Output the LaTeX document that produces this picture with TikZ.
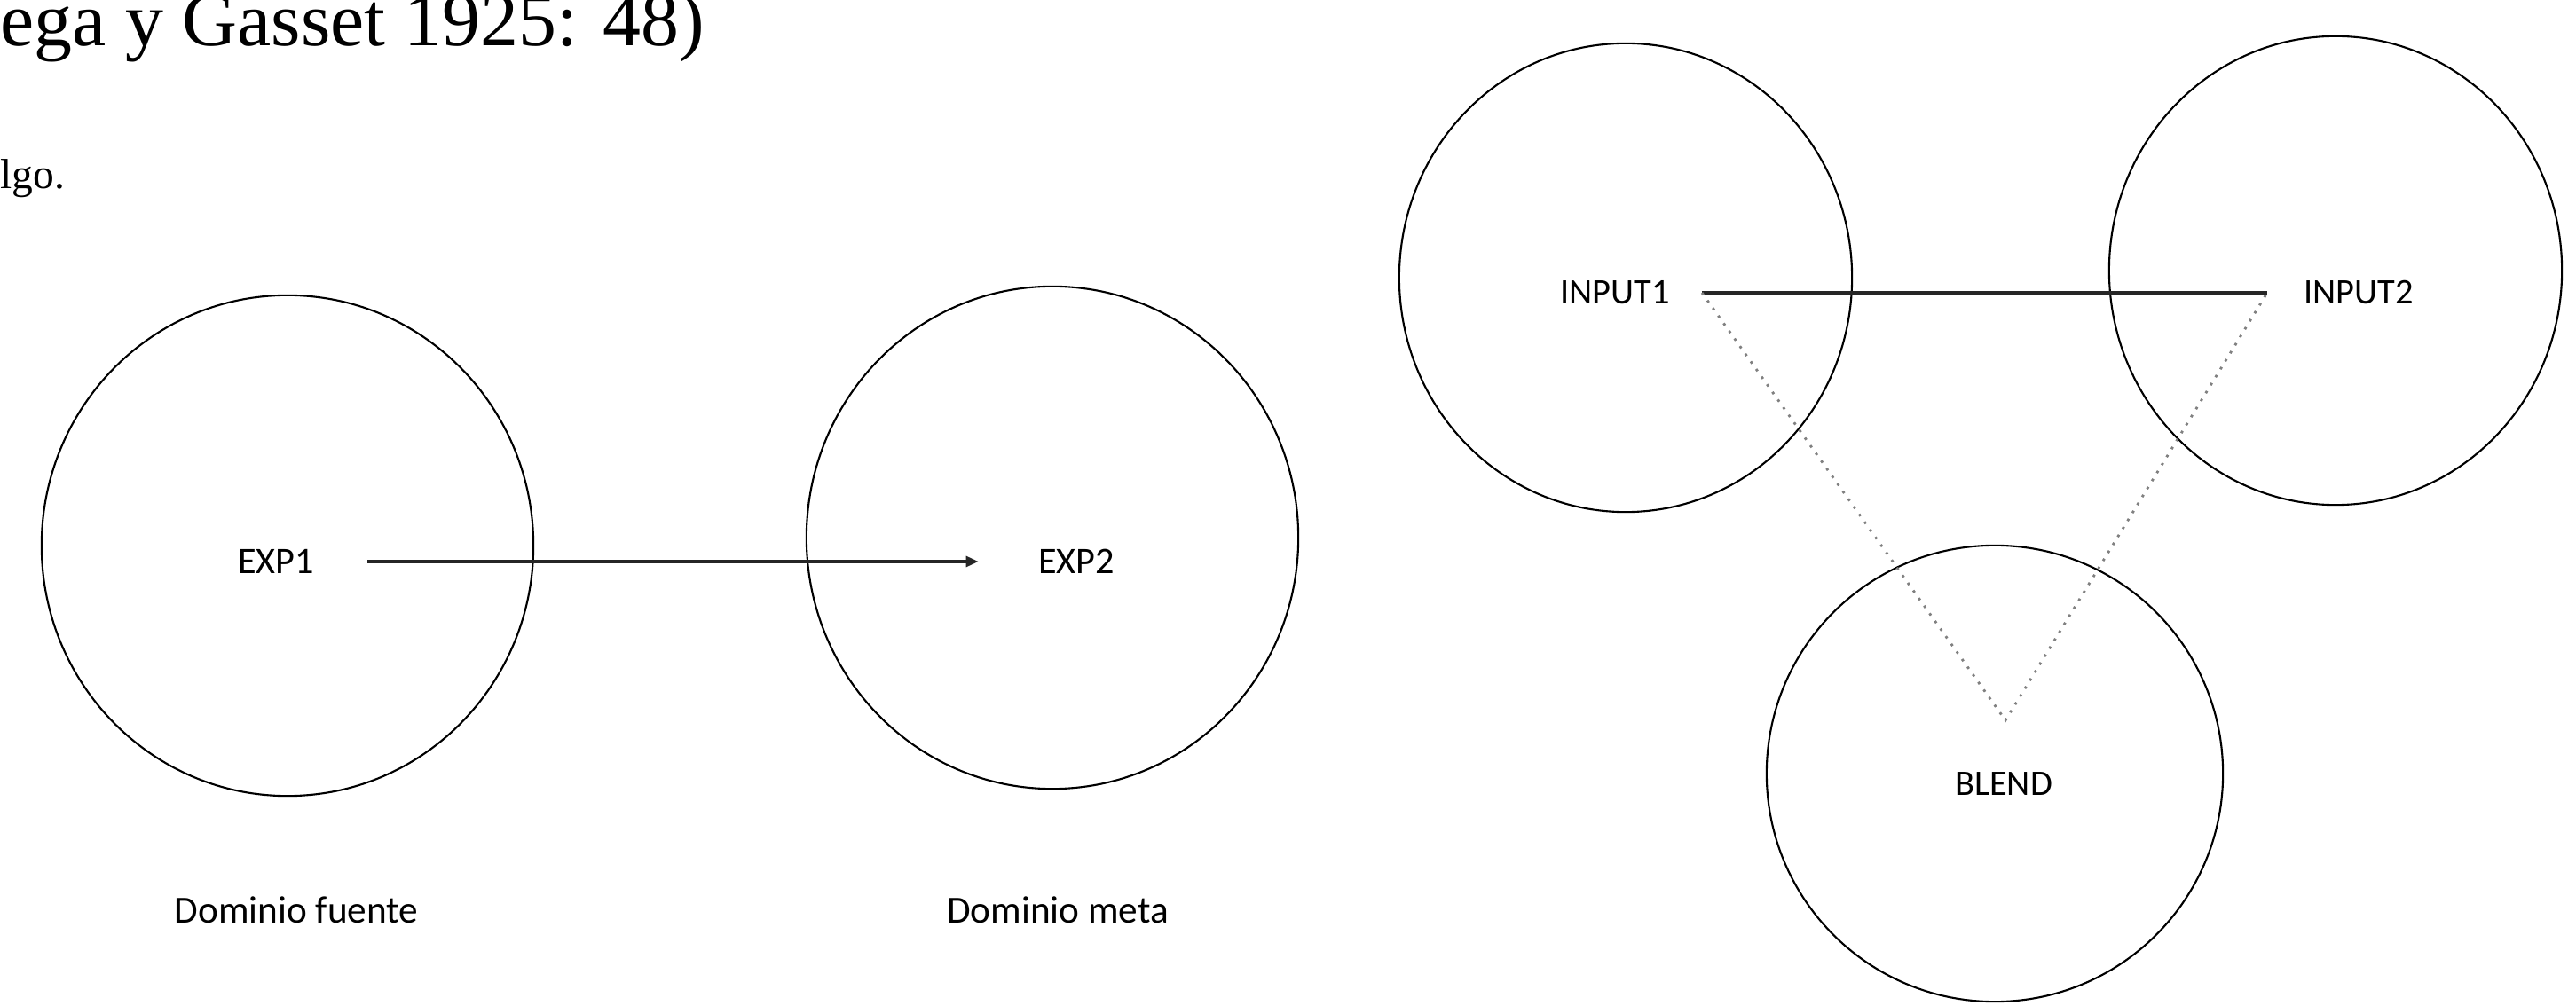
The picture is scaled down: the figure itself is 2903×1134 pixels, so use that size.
\documentclass[tikz,border=0pt]{standalone}
\usepackage{fontspec}
\setmainfont{Carlito}
\newfontfamily\tnr{Liberation Serif}
\usetikzlibrary{shapes.geometric,arrows.meta}
\begin{document}
\begin{tikzpicture}[x=0.01cm,y=-0.01cm,
  dcircle/.style={draw=black, ellipse, line width=0.6pt, inner sep=0pt},
  lbl/.style={inner sep=0pt, font=\fontsize{11.5}{13}\selectfont},
  bottomlbl/.style={inner sep=0pt, anchor=base, font=\fontsize{12.3}{14}\selectfont},
  conn/.style={line width=0.9pt, draw=black!85},
  dotline/.style={draw=black!50, line width=0.8pt, dash pattern=on 0.8pt off 2.2pt}]
\useasboundingbox (0,0) rectangle (2903,1134);
\clip (0,0) rectangle (2903,1134);
\fill[white] (0,0) rectangle (2903,1134);
% heading fragments
\node[anchor=base west, inner sep=0pt, font=\tnr\fontsize{24.4}{28}\selectfont] (title) at (0,52) {ega y Gasset 1925: 48)};
\node[anchor=base west, inner sep=0pt, font=\tnr\fontsize{13.5}{16}\selectfont] (frag) at (0,213) {lgo.};
% left: metaphor
\node[dcircle, minimum width=5.54cm, minimum height=5.64cm] (c1) at (324,615) {};
\node[dcircle, minimum width=5.54cm, minimum height=5.66cm] (c2) at (1186,606) {};
\node[lbl, font=\fontsize{12}{14}\selectfont] (exp1) at (311,633) {EXP1};
\node[lbl, font=\fontsize{12}{14}\selectfont] (exp2) at (1213,633) {EXP2};
\draw[conn, -{Triangle[length=4pt,width=3.4pt]}, shorten <=17pt, shorten >=19pt] (exp1.east) -- (exp2.west);
\node[bottomlbl] (df) at (334,1040) {Dominio fuente};
\node[bottomlbl] (dm) at (1192,1040) {Dominio meta};
% right: blend
\node[dcircle, minimum width=5.10cm, minimum height=5.28cm] (i1) at (1832,313) {};
\node[dcircle, minimum width=5.10cm, minimum height=5.28cm] (i2) at (2632,305) {};
\node[dcircle, minimum width=5.14cm, minimum height=5.14cm] (b) at (2248,872) {};
\node[lbl] (in1) at (1820,330) {INPUT1};
\node[lbl] (in2) at (2658,330) {INPUT2};
\node[lbl] (bl) at (2258,884) {BLEND};
\coordinate (p1) at (1918,330);
\coordinate (p2) at (2555,330);
\coordinate (apex) at (2260,812);
\draw[conn] (p1) -- (p2);
\draw[dotline] (p1) -- (apex) -- (p2);
\end{tikzpicture}
\end{document}
